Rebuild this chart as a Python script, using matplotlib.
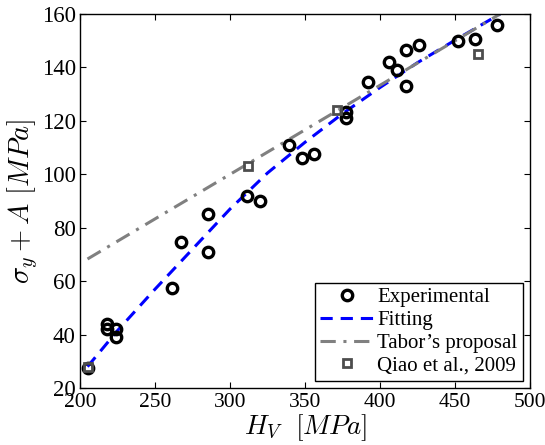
import matplotlib
matplotlib.use("Agg")
import matplotlib.pyplot as plt

plt.rcParams['font.family'] = ['Liberation Serif', 'DejaVu Serif']
plt.rcParams['mathtext.fontset'] = 'cm'

# Experimental data
exp_h = [205, 218, 218, 224, 224, 261, 267, 285, 285, 311, 320, 339, 348, 356,
         377, 377, 392, 406, 411, 417, 417, 426, 452, 463, 478]
exp_s = [27.5, 44, 42, 42, 39, 57.5, 74.5, 85, 71, 92, 90, 111, 106, 107.5,
         123.5, 121, 134.5, 142, 139, 146.5, 133, 148.5, 150, 150.5, 156]

# Fitting curve
fit_h = [205, 225, 250, 275, 300, 325, 350, 375, 400, 425, 450, 480]
fit_s = [28, 41.5, 57, 72, 87, 100.5, 112, 122.7, 132.5, 141.8, 150.2, 160]

# Tabor's proposal
tabor_h = [205, 480]
tabor_s = [68.3, 160]

# Qiao et al., 2009
qiao_h = [205, 312, 371, 465]
qiao_s = [28, 103, 124, 145]

fig = plt.figure(figsize=(5.45, 4.45), dpi=100)
ax = fig.add_axes([0.1468, 0.128, 0.8257, 0.8405])

ax.plot(exp_h, exp_s, 'o', mfc='none', mec='black', ms=7.5, mew=2.4,
        label='Experimental', zorder=3)
ax.plot(fit_h, fit_s, '--', color='#0000ff', lw=2.2, dashes=(4, 2.6),
        label='Fitting', zorder=2)
ax.plot(tabor_h, tabor_s, '-.', color='#808080', lw=2.2, dashes=(5, 2.5, 1, 2.5),
        label="Tabor\u2019s proposal", zorder=2)
ax.plot(qiao_h, qiao_s, 's', mfc='none', mec='#4d4d4d', ms=6, mew=2.0,
        label='Qiao et al., 2009', zorder=4)

ax.set_xlim(200, 500)
ax.set_ylim(20, 160)
ax.set_xticks([200, 250, 300, 350, 400, 450, 500])
ax.set_yticks([20, 40, 60, 80, 100, 120, 140, 160])
ax.tick_params(direction='in', top=True, right=True, length=4, width=0.8)
ax.tick_params(axis='y', labelsize=16.5, pad=3)
ax.tick_params(axis='x', labelsize=15.5, pad=3.5)
for s in ax.spines.values():
    s.set_linewidth(1.0)

ax.set_xlabel(r'$H_V\ \ [MPa]$', fontsize=19.5, labelpad=0)
ax.set_ylabel(r'$\sigma_y + A\ [MPa]$', fontsize=20.5, labelpad=1)

leg = ax.legend(loc='lower right', fontsize=15, frameon=True, fancybox=False,
                edgecolor='black', framealpha=1, borderaxespad=0.35,
                handlelength=2.6, labelspacing=0.15, borderpad=0.25,
                handletextpad=0.15)
leg.get_frame().set_linewidth(1.0)

fig.savefig('out.png', dpi=100)
